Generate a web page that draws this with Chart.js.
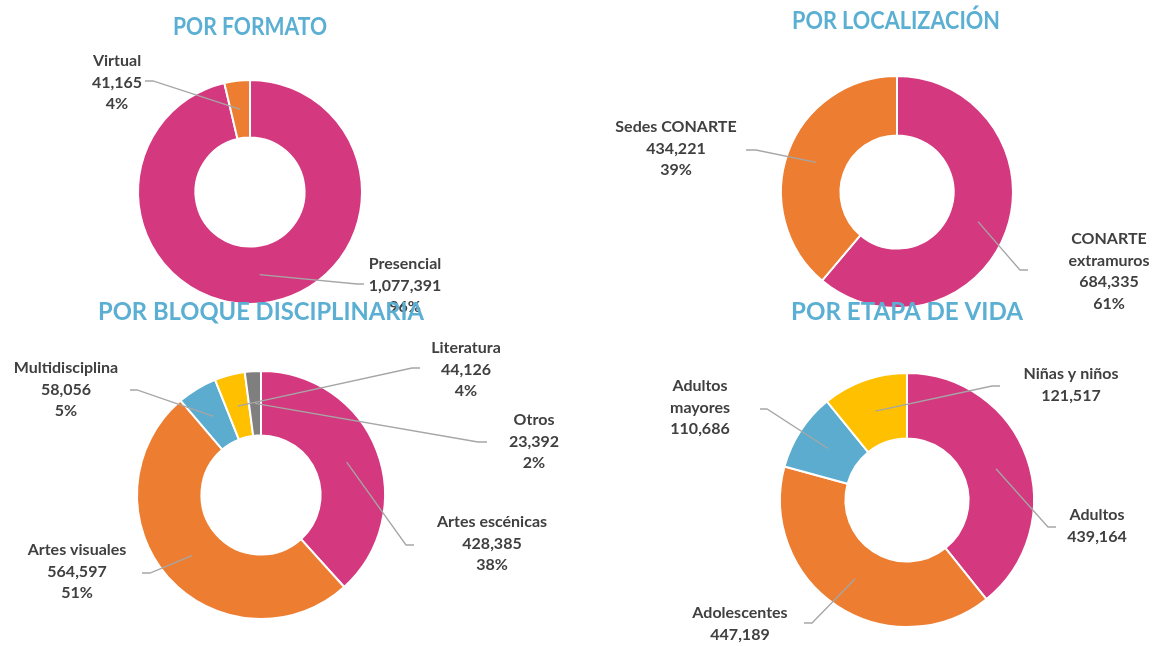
<!DOCTYPE html>
<html><head><meta charset="utf-8">
<script src="https://cdn.jsdelivr.net/npm/chart.js@4/dist/chart.umd.min.js"></script>
<style>
html,body{margin:0;padding:0;background:#fff;width:1155px;height:646px;overflow:hidden}
canvas{position:absolute;left:0;top:0}
</style></head><body>
<canvas id="c1" width="1155" height="646"></canvas>
<canvas id="c2" width="1155" height="646"></canvas>
<canvas id="c3" width="1155" height="646"></canvas>
<canvas id="c4" width="1155" height="646"></canvas>
<script>
// ---- DATA ----
const formatoTitle = 'POR FORMATO';
const formatoLabels = [['Presencial'], ['Virtual']];
const formatoValues = [1077391, 41165];
const formatoPct = ['96%', '4%'];

const localTitle = 'POR LOCALIZACIÓN';
const localLabels = [['CONARTE', 'extramuros'], ['Sedes CONARTE']];
const localValues = [684335, 434221];
const localPct = ['61%', '39%'];

const bloqueTitle = 'POR BLOQUE DISCIPLINARIA';
const bloqueLabels = [['Artes escénicas'], ['Artes visuales'], ['Multidisciplina'], ['Literatura'], ['Otros']];
const bloqueValues = [428385, 564597, 58056, 44126, 23392];
const bloquePct = ['38%', '51%', '5%', '4%', '2%'];

const etapaTitle = 'POR ETAPA DE VIDA';
const etapaLabels = [['Adultos'], ['Adolescentes'], ['Adultos', 'mayores'], ['Niñas y niños']];
const etapaValues = [439164, 447189, 110686, 121517];
const etapaPct = null;

// ---- STYLE / LAYOUT ----
const PINK = '#D4387E', ORANGE = '#ED7D31', BLUE = '#5BACCF', YELLOW = '#FFC000', GRAY = '#7F7F7F';
const TITLE_COLOR = '#5BAFD3';
const TEXT_COLOR = '#404040';
const LINE_COLOR = '#A6A6A6';
const LABEL_FONT = 'bold 16px Lato';
const TITLE_FONT = 'bold 24px Lato';
const LINE_H = 21.5;
const W = 1155, H = 646;

const calloutPlugin = {
  id: 'callouts',
  afterDatasetsDraw(chart, args, o) {
    const ctx = chart.ctx;
    const meta = chart.getDatasetMeta(0);
    const ds = chart.data.datasets[0];
    ctx.save();
    meta.data.forEach((arc, i) => {
      const p = arc.tooltipPosition(true);
      const c = o.callouts[i];
      ctx.strokeStyle = LINE_COLOR;
      ctx.lineWidth = 1.3;
      ctx.beginPath();
      ctx.moveTo(p.x, p.y);
      ctx.lineTo(c.ex, c.y);
      ctx.lineTo(c.hx, c.y);
      ctx.stroke();
      const lines = [...chart.data.labels[i], ds.data[i].toLocaleString('en-US')];
      if (o.pct) lines.push(o.pct[i]);
      ctx.font = LABEL_FONT;
      ctx.fillStyle = TEXT_COLOR;
      ctx.textAlign = 'center';
      ctx.textBaseline = 'middle';
      lines.forEach((t, k) => ctx.fillText(t, c.tx, c.ty + k * LINE_H));
    });
    ctx.font = TITLE_FONT;
    ctx.fillStyle = TITLE_COLOR;
    ctx.textAlign = 'center';
    ctx.textBaseline = 'middle';
    const tw = ctx.measureText(o.title).width;
    const sx = o.titleW ? o.titleW / tw : 1;
    ctx.translate(o.titleX, o.titleY);
    ctx.scale(sx, 1);
    ctx.fillText(o.title, 0, 0);
    ctx.restore();
  }
};

function makeDonut(id, labels, values, colors, pct, title, g) {
  const m = g.r + 6;
  new Chart(document.getElementById(id), {
    type: 'doughnut',
    data: { labels: labels, datasets: [{ data: values, backgroundColor: colors, borderColor: '#ffffff', borderWidth: 2 }] },
    options: {
      responsive: false,
      animation: false,
      radius: g.r,
      cutout: g.ri,
      layout: { padding: { left: g.cx - m, right: W - g.cx - m, top: g.cy - m, bottom: H - g.cy - m } },
      plugins: {
        legend: { display: false },
        tooltip: { enabled: false },
        callouts: { title: title, titleX: g.tX, titleY: g.tY, titleW: g.tW, pct: pct, callouts: g.callouts }
      }
    },
    plugins: [calloutPlugin]
  });
}

makeDonut('c1', formatoLabels, formatoValues, [PINK, ORANGE], formatoPct, formatoTitle, {
  cx: 250, cy: 192, r: 112, ri: 57, tX: 250, tY: 27, tW: 154,
  callouts: [
    { tx: 405, ty: 264, ex: 357, hx: 364, y: 284 },
    { tx: 117, ty: 61, ex: 153, hx: 145, y: 81 }
  ]
});
makeDonut('c2', localLabels, localValues, [PINK, ORANGE], localPct, localTitle, {
  cx: 897, cy: 192, r: 116, ri: 59, tX: 896, tY: 21, tW: 208,
  callouts: [
    { tx: 1109, ty: 239, ex: 1020, hx: 1028, y: 270 },
    { tx: 676, ty: 127, ex: 756, hx: 746, y: 150 }
  ]
});
makeDonut('c3', bloqueLabels, bloqueValues, [PINK, ORANGE, BLUE, YELLOW, GRAY], bloquePct, bloqueTitle, {
  cx: 261, cy: 495, r: 124, ri: 62, tX: 261, tY: 312, tW: 326,
  callouts: [
    { tx: 492, ty: 522, ex: 406, hx: 414, y: 545 },
    { tx: 77, ty: 550, ex: 150, hx: 142, y: 573 },
    { tx: 66, ty: 368, ex: 137, hx: 130, y: 390 },
    { tx: 466, ty: 348, ex: 412, hx: 420, y: 368 },
    { tx: 534, ty: 420, ex: 478, hx: 487, y: 442 }
  ]
});
makeDonut('c4', etapaLabels, etapaValues, [PINK, ORANGE, BLUE, YELLOW], etapaPct, etapaTitle, {
  cx: 907, cy: 500, r: 127, ri: 64, tX: 907, tY: 312, tW: 232,
  callouts: [
    { tx: 1097, ty: 515, ex: 1048, hx: 1056, y: 527 },
    { tx: 740, ty: 613, ex: 812, hx: 804, y: 623 },
    { tx: 700, ty: 386, ex: 767, hx: 760, y: 409 },
    { tx: 1071, ty: 374, ex: 992, hx: 1000, y: 386 }
  ]
});
</script>
</body></html>
